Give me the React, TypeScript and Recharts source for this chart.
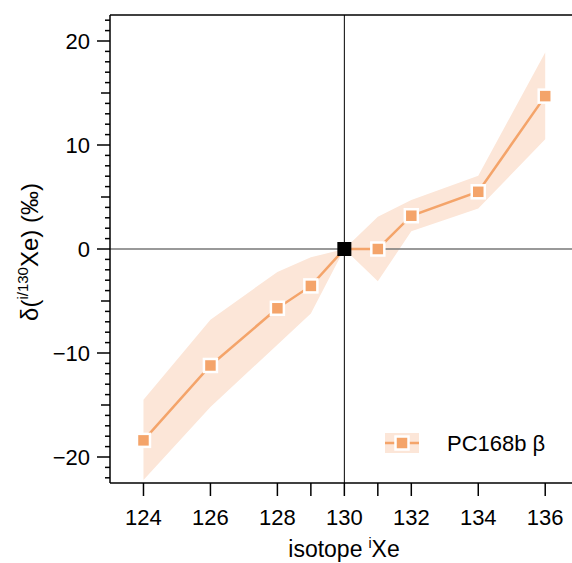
import React from 'react';
import {
  ComposedChart,
  Area,
  Line,
  XAxis,
  YAxis,
  ReferenceLine,
  Legend,
} from 'recharts';

const isotopes = [124, 126, 128, 129, 130, 131, 132, 134, 136];
const delta = [-18.4, -11.2, -5.7, -3.55, 0, 0, 3.2, 5.5, 14.7];
const lower = [-22.2, -15.2, -9.2, -6.2, 0, -3.1, 1.7, 3.9, 10.55];
const upper = [-14.5, -6.8, -2.2, -0.8, 0, 3.1, 4.7, 7.05, 18.9];

const xTicks = [124, 126, 128, 129, 130, 131, 132, 134, 136];
const xLabels = [124, 126, 128, 130, 132, 134, 136];
const yTicks = Array.from({ length: 45 }, (_, i) => i - 22);
const yLabels = [-20, -10, 0, 10, 20];

const seriesName = 'PC168b β';
// normalising isotope, drawn as a black square
const referenceIso = 130;

const data = isotopes.map((iso, i) => ({
  iso,
  delta: delta[i],
  band: [lower[i], upper[i]],
}));

const FONT = '"Liberation Sans", Arial, sans-serif';
const ORANGE = '#f4a46a';
const BAND = '#fce6d8';

function YTick(props: any) {
  const { x, y, payload } = props;
  const v = payload.value;
  const len = v % 10 === 0 ? 13 : v % 5 === 0 ? 9 : 5;
  return (
    <g>
      <line x1={x - len} x2={x} y1={y} y2={y} stroke="#000" strokeWidth={1.5} />
      {yLabels.includes(v) && (
        <text x={x - 20} y={y + 8} textAnchor="end" fontSize={22} fontFamily={FONT} fill="#000">
          {v < 0 ? `\u2212${Math.abs(v)}` : v}
        </text>
      )}
    </g>
  );
}

function XTick(props: any) {
  const { x, y, payload } = props;
  const v = payload.value;
  return (
    <g>
      <line x1={x} x2={x} y1={y} y2={y + 13} stroke="#000" strokeWidth={1.5} />
      {xLabels.includes(v) && (
        <text x={x} y={y + 42} textAnchor="middle" fontSize={22} fontFamily={FONT} fill="#000">
          {v}
        </text>
      )}
    </g>
  );
}

function XTitle() {
  return (
    <text x={344} y={557} textAnchor="middle" fontSize={23} fontFamily={FONT} fill="#000">
      isotope
      <tspan dx={6} dy={-9} fontSize={14}>i</tspan>
      <tspan dy={9} fontSize={23}>Xe</tspan>
    </text>
  );
}

function YTitle() {
  return (
    <text
      x={38}
      y={252}
      transform="rotate(-90, 38, 252)"
      textAnchor="middle"
      fontSize={24}
      fontFamily={FONT}
      fill="#000"
    >
      δ(
      <tspan dy={-10} fontSize={15}>i/130</tspan>
      <tspan dy={10} fontSize={24}>Xe) (‰)</tspan>
    </text>
  );
}

function SquareDot(props: any) {
  const { cx, cy, payload } = props;
  if (cx == null || cy == null) return null;
  if (payload && payload.iso === referenceIso) {
    return <rect x={cx - 7} y={cy - 7} width={14} height={14} fill="#000" />;
  }
  return <rect x={cx - 6.5} y={cy - 6.5} width={13} height={13} fill={ORANGE} stroke="#fff" strokeWidth={2.5} />;
}

function LegendBox(props: any) {
  const item = props.payload?.find((p: any) => p.dataKey === 'delta');
  return (
    <svg width={190} height={40}>
      <rect x={5} y={8} width={34} height={20} fill={BAND} />
      <line x1={5} x2={39} y1={18} y2={18} stroke={ORANGE} strokeWidth={2.5} />
      <rect x={15.5} y={11.5} width={13} height={13} fill={ORANGE} stroke="#fff" strokeWidth={2.5} />
      <text x={67} y={26} fontSize={22} fontFamily={FONT} fill="#000">
        {item ? item.value : seriesName}
      </text>
    </svg>
  );
}

export default function App() {
  return (
    <div style={{ position: 'absolute', left: 0, top: 0 }}>
      <ComposedChart
        width={572}
        height={563}
        data={data}
        margin={{ top: 15, right: 0, bottom: 0, left: 0 }}
      >
        <XAxis
          dataKey="iso"
          type="number"
          domain={[123, 136.8]}
          ticks={xTicks}
          interval={0}
          allowDataOverflow
          height={80}
          tickSize={0}
          tickMargin={0}
          tickLine={false}
          tick={<XTick />}
          axisLine={{ stroke: '#000', strokeWidth: 1.5 }}
          label={<XTitle />}
        />
        <YAxis
          type="number"
          domain={[-22.5, 22.5]}
          ticks={yTicks}
          interval={0}
          allowDataOverflow
          width={110}
          tickSize={0}
          tickMargin={0}
          tickLine={false}
          tick={<YTick />}
          axisLine={{ stroke: '#000', strokeWidth: 1.5 }}
          label={<YTitle />}
        />
        <Area
          dataKey="band"
          type="linear"
          fill={BAND}
          fillOpacity={1}
          stroke="none"
          isAnimationActive={false}
          legendType="none"
          activeDot={false}
        />
        <ReferenceLine y={0} stroke="#777" strokeWidth={1.5} />
        <ReferenceLine x={130} stroke="#000" strokeWidth={1} />
        <ReferenceLine y={22.5} stroke="#000" strokeWidth={1.5} />
        <Line
          dataKey="delta"
          name={seriesName}
          type="linear"
          stroke={ORANGE}
          strokeWidth={2.5}
          dot={<SquareDot />}
          activeDot={false}
          isAnimationActive={false}
        />
        <Legend
          layout="vertical"
          align="center"
          verticalAlign="middle"
          content={<LegendBox />}
          wrapperStyle={{ position: 'absolute', left: 380, top: 425, width: 190, height: 40 }}
        />
      </ComposedChart>
    </div>
  );
}
